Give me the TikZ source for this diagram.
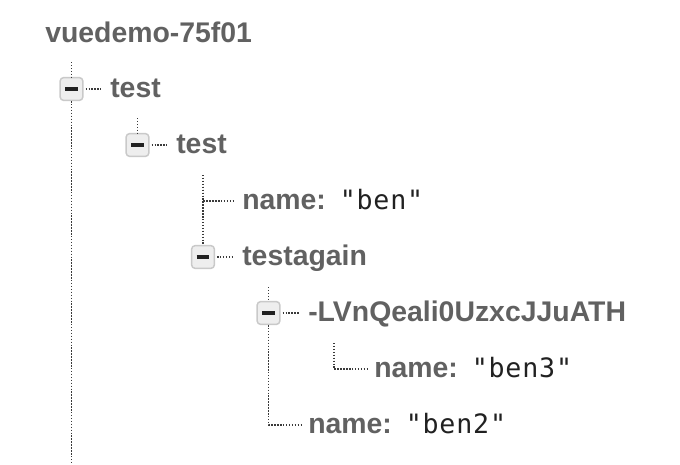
\documentclass[tikz,border=0pt]{standalone}
\usepackage{fontspec}
\setmainfont{Liberation Sans}
\newfontfamily\valfont[LetterSpace=3]{DejaVu Sans Mono}
\usepackage{xcolor}
\usetikzlibrary{positioning}

\definecolor{keygrey}{HTML}{616161}
\definecolor{valblack}{HTML}{212121}
\definecolor{dotgrey}{HTML}{3A3A3A}
\definecolor{boxfill}{HTML}{EEEEEE}
\definecolor{boxline}{HTML}{C9C9C9}

\begin{document}
\begin{tikzpicture}[
    x=0.75pt, y=-0.75pt,
    keytext/.style={
        anchor=west,
        inner sep=0pt,
        text height=13pt,
        text depth=0pt,
        text=keygrey,
        font=\fontsize{21.3}{25}\selectfont\bfseries
    },
    valtext/.style={
        inner sep=0pt,
        text=valblack,
        font=\fontsize{20}{24}\selectfont\valfont
    },
    toggle/.style={
        draw=boxline,
        line width=1.1pt,
        fill=boxfill,
        rounded corners=2.5pt,
        minimum size=17pt,
        inner sep=0pt
    },
    dots/.style={
        draw=dotgrey,
        line width=1.1pt,
        dash pattern=on 1.1pt off 1.1pt
    }
]
\useasboundingbox (0,0) rectangle (680,464);

\newcommand{\minus}{\textcolor{valblack}{\rule[-1.4pt]{9.5pt}{2.8pt}}}

\node[keytext] (root) at (45,34) {vuedemo-75f01};

\node[toggle] (box1) at (71.5,89) {\minus};
\node[keytext] (k1) at (110,89) {test};

\node[toggle] (box2) at (137.5,145) {\minus};
\node[keytext] (k2) at (176,145) {test};

\node[keytext] (n1) at (242,201) {name:};
\node[valtext, right=10pt of n1.base east, anchor=base west] (v1) {"ben"};

\node[toggle] (box3) at (203,257) {\minus};
\node[keytext] (k3) at (242,257) {testagain};

\node[toggle] (box4) at (268.5,313) {\minus};
\node[keytext] (k4) at (308,313) {-LVnQeali0UzxcJJuATH};

\node[keytext] (n3) at (374,369) {name:};
\node[valtext, right=10pt of n3.base east, anchor=base west] (v3) {"ben3"};

\node[keytext] (n2) at (308,425) {name:};
\node[valtext, right=10pt of n2.base east, anchor=base west] (v2) {"ben2"};

\coordinate (top1) at (71.5,62);
\coordinate (bot1) at (71.5,464);
\coordinate (top2) at (137.5,118);
\coordinate (top3) at (203,175);
\coordinate (top4) at (268.5,287);
\coordinate (top5) at (334,343);

\draw[dots] (top1) -- (box1.north);
\draw[dots] (box1.south) -- (bot1);
\draw[dots, shorten <=1.5pt, shorten >=7pt] (box1.east) -- (k1.west);

\draw[dots] (top2) -- (box2.north);
\draw[dots, shorten <=1.5pt, shorten >=7pt] (box2.east) -- (k2.west);

\draw[dots] (top3) -- (box3.north);
\draw[dots, shorten >=5pt] (top3) |- (n1.west);
\draw[dots, shorten <=1.5pt, shorten >=7pt] (box3.east) -- (k3.west);

\draw[dots] (top4) -- (box4.north);
\draw[dots, shorten <=1.5pt, shorten >=7pt] (box4.east) -- (k4.west);
\draw[dots, shorten >=5pt] (box4.south) |- (n2.west);

\draw[dots, shorten >=5pt] (top5) |- (n3.west);

\end{tikzpicture}
\end{document}
